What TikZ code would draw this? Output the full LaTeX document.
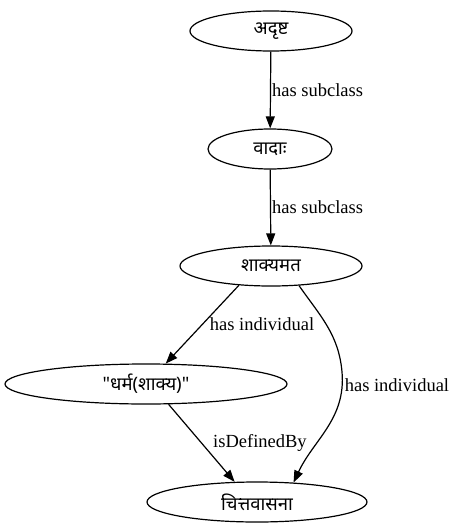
\documentclass[tikz,border=0pt]{standalone}
\usepackage{fontspec}
\setmainfont{Liberation Serif}
\newfontfamily\deva[Script=Devanagari]{Noto Sans}
\usetikzlibrary{shapes,shapes.geometric,arrows.meta,positioning}
\tikzset{
  onto_n/.style = {ellipse, draw=black, line width=1.2pt, inner sep=0pt, minimum height=40pt, font=\deva\fontsize{18.5}{20}\selectfont},
  onto_e/.style = {draw=black, line width=1.2pt, -{Triangle[length=12pt,width=9pt]}},
  onto_l/.style = {inner sep=1pt, font=\fontsize{18.5}{20}\selectfont}
}

\begin{document}
\begin{tikzpicture}[x=1pt,y=-1pt]
\useasboundingbox (0,0) rectangle (452,532);
\node [onto_n, minimum width=162pt] (adr) at (271,31) {अदृष्ट};
\node [onto_n, minimum width=124pt] (vada) at (270,149) {वादाः};
\node [onto_n, minimum width=182pt] (shak) at (271,266) {शाक्यमत};
\node [onto_n, minimum width=282pt] (dharma) at (146,384) {"धर्म(शाक्य)"};
\node [onto_n, minimum width=220pt] (citta) at (257,502) {चित्तवासना};
\coordinate (bend) at (342,372);

\draw [onto_e] (adr) -- node [onto_l, midway, right] {has subclass} (vada);
\draw [onto_e] (vada) -- node [onto_l, midway, right] {has subclass} (shak);
\draw [onto_e] (shak.-149) -- node [onto_l, midway, right=6pt] {has individual} (dharma.46);
\draw [onto_e] (shak.-35) to[out=-55, in=95] (bend)
	to[out=-85, in=65] node [onto_l, pos=0.1, right=1pt] {has individual} (citta.28);
\draw [onto_e] (dharma.-42) -- node [onto_l, midway, right=10pt] {isDefinedBy} (citta.138);
\end{tikzpicture}
\end{document}
